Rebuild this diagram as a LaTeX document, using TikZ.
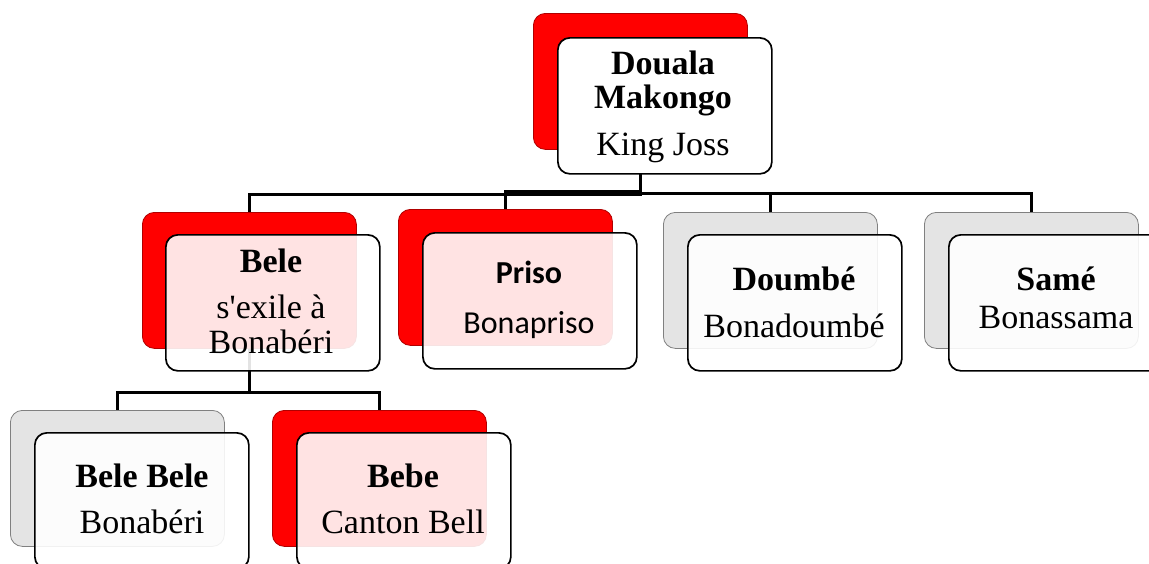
\documentclass[tikz,border=0pt]{standalone}
\usepackage{fontspec}
\setmainfont{Liberation Serif}
\newfontfamily\calsans{Carlito}
\usetikzlibrary{backgrounds}
\definecolor{boxred}{HTML}{FF0000}
\definecolor{boxredline}{HTML}{B00000}
\definecolor{boxgray}{HTML}{E4E4E4}
\definecolor{boxgrayline}{HTML}{808080}
\tikzset{
  backbox/.style={rectangle, rounded corners=12pt, minimum width=214pt, minimum height=136pt, inner sep=0pt, anchor=north west, line width=0.8pt},
  backred/.style={backbox, fill=boxred, draw=boxredline},
  backgray/.style={backbox, fill=boxgray, draw=boxgrayline},
  frontbox/.style={rectangle, rounded corners=12pt, minimum width=214pt, minimum height=136pt, inner sep=0pt, anchor=north west, fill=white, fill opacity=0.89, draw=black, draw opacity=1, line width=1.7pt},
  txt/.style={inner sep=0pt, anchor=base, font=\fontsize{34}{40}\selectfont},
  btxt/.style={txt, font=\fontsize{34}{40}\selectfont\bfseries},
  stxt/.style={txt, font=\fontsize{32}{38}\selectfont\calsans},
  sbtxt/.style={txt, font=\fontsize{32}{38}\selectfont\calsans\bfseries},
  conn/.style={draw=black, line width=2.6pt}
}
\begin{document}
\begin{tikzpicture}[x=1pt, y=-1pt]
\useasboundingbox (0,0) rectangle (1149,563);
% root
\node[backred] (rootB) at (533,13) {};
\node[frontbox, fill opacity=1] (root) at (557,37) {};
\node[btxt] (t1) at (663,74) {Douala};
\node[btxt] (t2) at (663,108) {Makongo};
\node[txt] (t3) at (663,155) {King Joss};
% Bele
\node[backred] (beleB) at (142,212) {};
\node[frontbox] (bele) at (165,234) {};
\node[btxt] (b1) at (271,272) {Bele};
\node[txt] (b2) at (271,318) {s\textquotesingle exile à};
\node[txt] (b3) at (271,353) {Bonabéri};
% Priso
\node[backred] (prisoB) at (398,209) {};
\node[frontbox] (priso) at (422,232) {};
\node[sbtxt] (p1) at (529,283) {Priso};
\node[stxt] (p2) at (529,333) {Bonapriso};
% Doumbe
\node[backgray] (doumbeB) at (663,212) {};
\node[frontbox] (doumbe) at (687,234) {};
\node[btxt] (d1) at (794,290) {Doumbé};
\node[txt] (d2) at (794,337) {Bonadoumbé};
% Same
\node[backgray] (sameB) at (924,212) {};
\node[frontbox] (same) at (948,234) {};
\node[btxt] (s1) at (1056,290) {Samé};
\node[txt] (s2) at (1056,328) {Bonassama};
% Bele Bele
\node[backgray] (bbB) at (10,410) {};
\node[frontbox] (bb) at (34,432) {};
\node[btxt] (bb1) at (142,487) {Bele Bele};
\node[txt] (bb2) at (142,533) {Bonabéri};
% Bebe
\node[backred] (bebeB) at (272,410) {};
\node[frontbox] (bebe) at (296,432) {};
\node[btxt] (e1) at (403,487) {Bebe};
\node[txt] (e2) at (403,533) {Canton Bell};
% connectors
\begin{pgfonlayer}{background}
\draw[conn] (rootB.south) -- (root.south -| rootB.south) -- ++(0,20) -| (beleB.north);
\draw[conn] (rootB.south) -- (root.south -| rootB.south) -- ++(0,17) -| (prisoB.north);
\draw[conn] (rootB.south) -- (root.south -| rootB.south) -- ++(0,19) -| (doumbeB.north);
\draw[conn] (rootB.south) -- (root.south -| rootB.south) -- ++(0,19) -| (sameB.north);
\draw[conn] (beleB.south) -- (bele.south -| beleB.south) -- ++(0,21) -| (bbB.north);
\draw[conn] (beleB.south) -- (bele.south -| beleB.south) -- ++(0,21) -| (bebeB.north);
\end{pgfonlayer}
\end{tikzpicture}
\end{document}
